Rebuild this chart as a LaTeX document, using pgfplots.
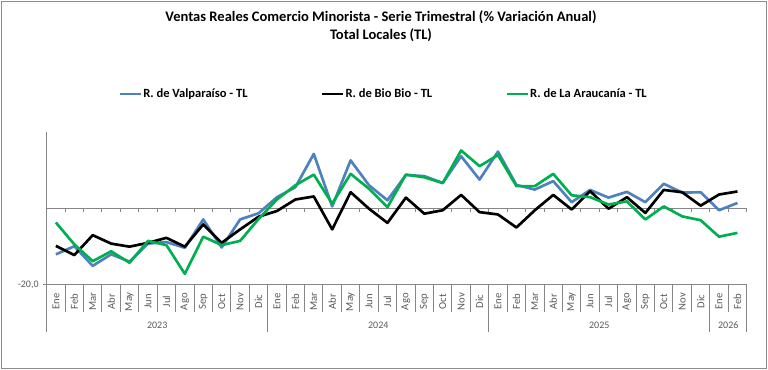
\documentclass[border=0pt]{standalone}
\usepackage{fontspec}
\setmainfont{Carlito}
\usepackage{pgfplots}
\pgfplotsset{compat=1.18}
\definecolor{valpo}{HTML}{4F81BD}
\definecolor{arauc}{HTML}{00B050}
\definecolor{axgray}{HTML}{868686}
\definecolor{lblgray}{HTML}{595959}
\definecolor{framegray}{HTML}{8C8C8C}
\begin{document}
\begin{tikzpicture}
\useasboundingbox (0,0) rectangle (576pt,277.5pt);
\draw[framegray, line width=0.75pt] (0.75pt,1.1pt) rectangle (575pt,276.7pt);
\node[font=\bfseries\fontsize{10.9}{13.5}\selectfont, align=center] at (285.75pt,258.1pt) {Ventas Reales Comercio Minorista - Serie Trimestral (\% Variación Anual)\\Total Locales (TL)};
\begin{axis}[
  at={(35pt,63.75pt)}, anchor=south west, scale only axis,
  width=525pt, height=115pt,
  xmin=-0.5, xmax=37.5, ymin=-20, ymax=20,
  clip=false,
  axis lines=left,
  axis line style={draw=axgray, line width=0.75pt, -},
  xtick={0,...,37},
  xticklabels={Ene,Feb,Mar,Abr,May,Jun,Jul,Ago,Sep,Oct,Nov,Dic,Ene,Feb,Mar,Abr,May,Jun,Jul,Ago,Sep,Oct,Nov,Dic,Ene,Feb,Mar,Abr,May,Jun,Jul,Ago,Sep,Oct,Nov,Dic,Ene,Feb},
  xtick style={draw=none},
  xticklabel style={rotate=90, anchor=center, font=\fontsize{8}{9}\selectfont, text=lblgray},
  xticklabel shift=10pt,
  ytick={-20},
  yticklabel={-20,0},
  yticklabel style={font=\fontsize{7.5}{9}\selectfont, text=lblgray},
  ytick style={draw=axgray, line width=0.75pt},
  tick align=outside,
  major tick length=2.5pt,
  legend columns=3,
  legend style={at={(0.481,1.2457)}, anchor=center, draw=none, fill=none,
    font=\bfseries\fontsize{9.4}{11}\selectfont,
    nodes={inner xsep=1pt},
    /tikz/every even column/.append style={column sep=54pt}},
  legend image code/.code={\draw[#1] (0pt,0pt) -- (15.5pt,0pt);},
  every axis plot/.append style={line width=2pt, line join=round},
]
\draw[axgray, line width=0.75pt] (axis cs:-0.5,0) -- (axis cs:37.5,0);
\pgfplotsinvokeforeach{-0.5,0.5,1.5,2.5,3.5,4.5,5.5,6.5,7.5,8.5,9.5,10.5,11.5,12.5,13.5,14.5,15.5,16.5,17.5,18.5,19.5,20.5,21.5,22.5,23.5,24.5,25.5,26.5,27.5,28.5,29.5,30.5,31.5,32.5,33.5,34.5,35.5,36.5,37.5}{
  \draw[axgray, line width=0.75pt] (axis cs:#1,0) -- (axis cs:#1,-0.87);
  \draw[axgray, line width=0.75pt] (axis cs:#1,-20) -- (axis cs:#1,-26.96);
}
\pgfplotsinvokeforeach{-0.5,11.5,23.5,35.5,37.5}{
  \draw[axgray, line width=0.75pt] (axis cs:#1,-20) -- (axis cs:#1,-32.17);
}
\node[font=\fontsize{7.5}{9}\selectfont, text=lblgray] at (axis cs:5.5,-30.43) {2023};
\node[font=\fontsize{7.5}{9}\selectfont, text=lblgray] at (axis cs:17.5,-30.43) {2024};
\node[font=\fontsize{7.5}{9}\selectfont, text=lblgray] at (axis cs:29.5,-30.43) {2025};
\node[font=\fontsize{7.5}{9}\selectfont, text=lblgray] at (axis cs:36.5,-30.43) {2026};
\addplot[valpo] coordinates {(0,-12.0)(1,-9.9)(2,-15.0)(3,-12.0)(4,-13.9)(5,-9.2)(6,-8.8)(7,-10.3)(8,-2.9)(9,-10.2)(10,-2.9)(11,-1.3)(12,2.9)(13,5.5)(14,14.2)(15,0.5)(16,12.5)(17,6.0)(18,2.1)(19,8.7)(20,8.4)(21,6.6)(22,13.6)(23,7.5)(24,14.8)(25,6.1)(26,4.9)(27,7.1)(28,1.6)(29,4.8)(30,2.8)(31,4.3)(32,1.6)(33,6.4)(34,4.1)(35,4.2)(36,-0.5)(37,1.4)};
\addlegendentry{R. de Valparaíso - TL}
\addplot[black] coordinates {(0,-9.8)(1,-12.2)(2,-7.0)(3,-9.2)(4,-10.0)(5,-9.0)(6,-7.7)(7,-10.0)(8,-4.2)(9,-9.0)(10,-5.5)(11,-2.2)(12,-0.7)(13,2.3)(14,3.1)(15,-5.5)(16,4.2)(17,-0.1)(18,-3.8)(19,2.8)(20,-1.4)(21,-0.5)(22,3.5)(23,-1.0)(24,-1.6)(25,-5.0)(26,-0.5)(27,3.5)(28,-0.3)(29,4.5)(30,-0.1)(31,2.9)(32,-1.2)(33,4.8)(34,4.2)(35,0.7)(36,3.6)(37,4.4)};
\addlegendentry{R. de Bio Bio - TL}
\addplot[arauc] coordinates {(0,-3.7)(1,-9.4)(2,-13.8)(3,-11.2)(4,-14.2)(5,-8.5)(6,-9.6)(7,-17.1)(8,-7.4)(9,-9.6)(10,-8.5)(11,-2.8)(12,2.3)(13,6.0)(14,8.8)(15,1.2)(16,9.0)(17,5.1)(18,0.3)(19,8.8)(20,8.1)(21,6.6)(22,15.1)(23,11.0)(24,13.9)(25,5.8)(26,5.8)(27,9.0)(28,3.4)(29,2.9)(30,1.0)(31,1.8)(32,-2.9)(33,0.5)(34,-2.1)(35,-3.1)(36,-7.4)(37,-6.4)};
\addlegendentry{R. de La Araucanía - TL}
\end{axis}
\end{tikzpicture}
\end{document}
